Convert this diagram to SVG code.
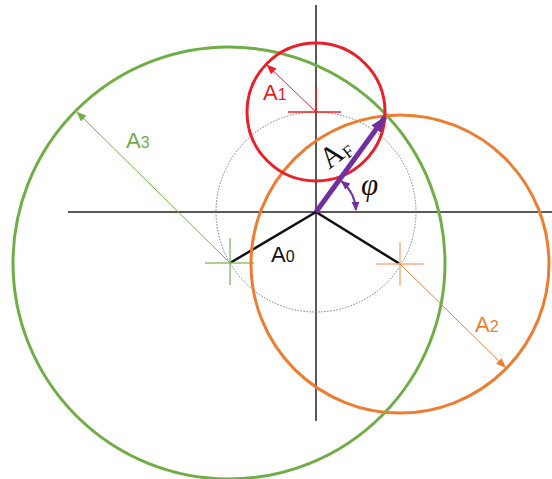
<svg xmlns="http://www.w3.org/2000/svg" width="552" height="479" viewBox="0 0 552 479">
<style>
  .axis{stroke:#222;stroke-width:1.5;fill:none}
  .circ{fill:none;stroke-width:3}
  .lbl{font-family:"Liberation Sans",Arial,sans-serif;font-size:22px}
  .sub{font-size:16px}
</style>
<defs>
  <marker id="arR" markerUnits="userSpaceOnUse" markerWidth="11" markerHeight="9" refX="10" refY="4" orient="auto"><path d="M0,0 L10,4 L0,8 z" fill="#e8202a"/></marker>
  <marker id="arG" markerUnits="userSpaceOnUse" markerWidth="11" markerHeight="9" refX="10" refY="4" orient="auto"><path d="M0,0 L10,4 L0,8 z" fill="#70ad47"/></marker>
  <marker id="arO" markerUnits="userSpaceOnUse" markerWidth="11" markerHeight="9" refX="10" refY="4" orient="auto"><path d="M0,0 L10,4 L0,8 z" fill="#ed7d31"/></marker>
  <marker id="arP" markerUnits="userSpaceOnUse" markerWidth="17" markerHeight="13" refX="15" refY="6" orient="auto"><path d="M0,0 L16,6 L0,12 z" fill="#7030a0"/></marker>
  <marker id="arPs" markerUnits="userSpaceOnUse" markerWidth="10" markerHeight="9" refX="8" refY="4" orient="auto-start-reverse"><path d="M0,0 L9,4 L0,8 z" fill="#7030a0"/></marker>
</defs>
<rect width="552" height="479" fill="#fff"/>
<g id="axes">
  <line class="axis" x1="316" y1="5" x2="316" y2="421"/>
  <line class="axis" x1="68" y1="212" x2="552" y2="212"/>
</g>
<g id="base-circle">
  <circle cx="316" cy="212" r="100" fill="none" stroke="#777" stroke-width="1" stroke-dasharray="1.5 1.5"/>
</g>
<g id="A0">
  <polyline points="230,263 316,212 400,264" fill="none" stroke="#111" stroke-width="2.5" stroke-linejoin="round"/>
  <text class="lbl" x="271" y="262" fill="#111">A<tspan class="sub">0</tspan></text>
</g>
<g id="A3">
  <circle class="circ" cx="229" cy="263" r="216" stroke="#70ad47"/>
  <line x1="205" y1="263" x2="254" y2="263" stroke="#8fc070" stroke-width="1.5"/>
  <line x1="230" y1="238" x2="230" y2="285" stroke="#8fc070" stroke-width="1.5"/>
  <text class="lbl" x="126" y="148" fill="#70ad47">A<tspan class="sub">3</tspan></text>
</g>
<g id="A2">
  <circle class="circ" cx="400" cy="264" r="149" stroke="#ed7d31"/>
  <line x1="376" y1="264" x2="424" y2="264" stroke="#f4b183" stroke-width="1.5"/>
  <line x1="400" y1="242" x2="400" y2="286" stroke="#f4b183" stroke-width="1.5"/>
  <text class="lbl" x="475" y="332" fill="#ed7d31">A<tspan class="sub">2</tspan></text>
</g>
<g id="A1">
  <circle class="circ" cx="316" cy="112" r="69" stroke="#e8202a"/>
  <line x1="288" y1="112" x2="341" y2="112" stroke="#e8202a" stroke-width="1.5"/>
  <line x1="316" y1="88" x2="316" y2="112" stroke="#e8202a" stroke-width="1.5"/>
  <text class="lbl" x="263" y="100" fill="#e8202a">A<tspan class="sub">1</tspan></text>
</g>
<g id="connectors">
  <line x1="316" y1="112" x2="266.5" y2="64.5" stroke="#e8202a" stroke-width="1" marker-end="url(#arR)"/>
  <line x1="230" y1="263" x2="76.5" y2="111.5" stroke="#70ad47" stroke-width="1" marker-end="url(#arG)"/>
  <line x1="400" y1="264" x2="506" y2="368" stroke="#ed7d31" stroke-width="1" marker-end="url(#arO)"/>
  <line x1="316" y1="212" x2="385" y2="117" stroke="#7030a0" stroke-width="5" marker-end="url(#arP)"/>
  <path d="M341.7,181.4 A40,40 0 0 1 355.9,209.9" fill="none" stroke="#7030a0" stroke-width="2" marker-start="url(#arPs)" marker-end="url(#arPs)"/>
</g>
<g id="AF">
  <text transform="translate(329,170) rotate(-38)" font-family="Liberation Serif,serif" font-size="30" fill="#111">A<tspan font-size="17" dy="3">F</tspan></text>
</g>
<g id="phi">
  <text x="361" y="195" font-family="Liberation Serif,serif" font-style="italic" font-size="31" fill="#111">φ</text>
</g>
</svg>
